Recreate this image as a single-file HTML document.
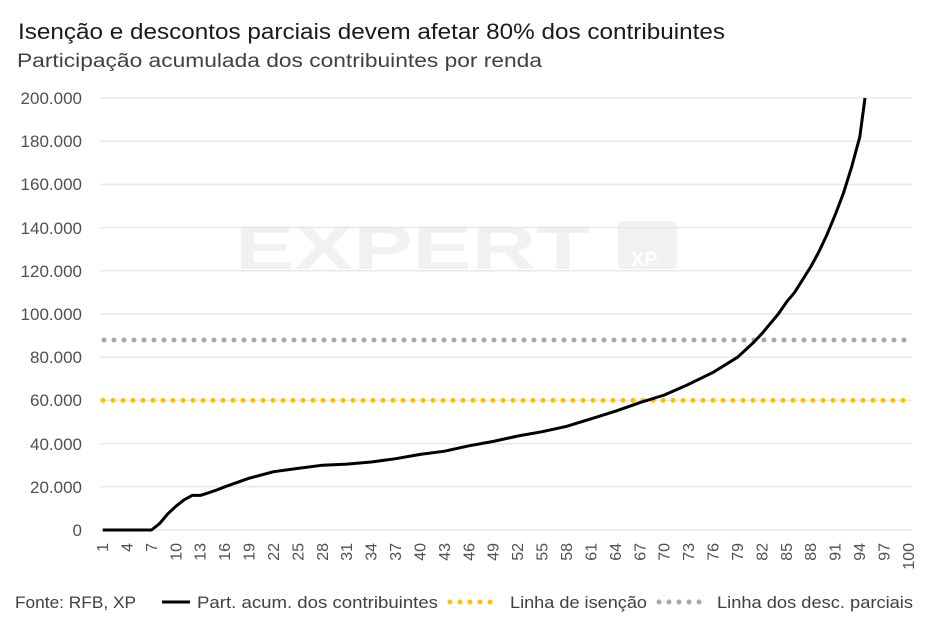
<!DOCTYPE html>
<html><head><meta charset="utf-8"><style>
html,body{margin:0;padding:0;background:#fff}
svg{display:block;font-family:"Liberation Sans",sans-serif}
</style></head><body>
<svg width="934" height="634" viewBox="0 0 934 634" xmlns="http://www.w3.org/2000/svg">
<rect width="934" height="634" fill="#fff"/>
<text x="18" y="39" font-size="22" fill="#1a1a1a" textLength="707" lengthAdjust="spacingAndGlyphs">Isenção e descontos parciais devem afetar 80% dos contribuintes</text>
<text x="17" y="67" font-size="19" fill="#404040" textLength="525" lengthAdjust="spacingAndGlyphs">Participação acumulada dos contribuintes por renda</text>
<text x="235" y="269" font-size="62" font-weight="bold" fill="#f1f1f1" textLength="355" lengthAdjust="spacingAndGlyphs">EXPERT</text>
<rect x="618" y="221" width="59" height="48" rx="5" fill="#f1f1f1"/>
<text x="631" y="266" font-size="20" font-weight="bold" fill="#fff">XP</text>
<g stroke="#e8e8e8" stroke-width="1.5">
<line x1="100" x2="912" y1="98" y2="98"/><line x1="100" x2="912" y1="141.2" y2="141.2"/>
<line x1="100" x2="912" y1="184.4" y2="184.4"/><line x1="100" x2="912" y1="227.6" y2="227.6"/>
<line x1="100" x2="912" y1="270.8" y2="270.8"/><line x1="100" x2="912" y1="314" y2="314"/>
<line x1="100" x2="912" y1="357.2" y2="357.2"/><line x1="100" x2="912" y1="400.4" y2="400.4"/>
<line x1="100" x2="912" y1="443.6" y2="443.6"/><line x1="100" x2="912" y1="486.8" y2="486.8"/>
<line x1="100" x2="912" y1="530" y2="530"/>
</g>
<g font-size="17" fill="#505050" text-anchor="end">
<text x="82" y="104">200.000</text><text x="82" y="147">180.000</text><text x="82" y="190">160.000</text>
<text x="82" y="234">140.000</text><text x="82" y="277">120.000</text><text x="82" y="320">100.000</text>
<text x="82" y="363">80.000</text><text x="82" y="406">60.000</text><text x="82" y="450">40.000</text>
<text x="82" y="493">20.000</text><text x="82" y="536">0</text>
</g>
<g font-size="16" fill="#505050" text-anchor="end">
<text transform="translate(108,543) rotate(-90)">1</text>
<text transform="translate(132.4,543) rotate(-90)">4</text>
<text transform="translate(156.8,543) rotate(-90)">7</text>
<text transform="translate(181.3,543) rotate(-90)">10</text>
<text transform="translate(205.7,543) rotate(-90)">13</text>
<text transform="translate(230.1,543) rotate(-90)">16</text>
<text transform="translate(254.5,543) rotate(-90)">19</text>
<text transform="translate(278.9,543) rotate(-90)">22</text>
<text transform="translate(303.4,543) rotate(-90)">25</text>
<text transform="translate(327.8,543) rotate(-90)">28</text>
<text transform="translate(352.2,543) rotate(-90)">31</text>
<text transform="translate(376.6,543) rotate(-90)">34</text>
<text transform="translate(401,543) rotate(-90)">37</text>
<text transform="translate(425.5,543) rotate(-90)">40</text>
<text transform="translate(449.9,543) rotate(-90)">43</text>
<text transform="translate(474.3,543) rotate(-90)">46</text>
<text transform="translate(498.7,543) rotate(-90)">49</text>
<text transform="translate(523.1,543) rotate(-90)">52</text>
<text transform="translate(547.6,543) rotate(-90)">55</text>
<text transform="translate(572,543) rotate(-90)">58</text>
<text transform="translate(596.4,543) rotate(-90)">61</text>
<text transform="translate(620.8,543) rotate(-90)">64</text>
<text transform="translate(645.3,543) rotate(-90)">67</text>
<text transform="translate(669.7,543) rotate(-90)">70</text>
<text transform="translate(694.1,543) rotate(-90)">73</text>
<text transform="translate(718.5,543) rotate(-90)">76</text>
<text transform="translate(742.9,543) rotate(-90)">79</text>
<text transform="translate(767.4,543) rotate(-90)">82</text>
<text transform="translate(791.8,543) rotate(-90)">85</text>
<text transform="translate(816.2,543) rotate(-90)">88</text>
<text transform="translate(840.6,543) rotate(-90)">91</text>
<text transform="translate(865,543) rotate(-90)">94</text>
<text transform="translate(889.5,543) rotate(-90)">97</text>
<text transform="translate(913.9,543) rotate(-90)">100</text>
</g>
<line x1="104" x2="908" y1="340" y2="340" stroke="#a6a6a6" stroke-width="5" stroke-linecap="round" stroke-dasharray="0 10"/>
<line x1="103" x2="908" y1="400.4" y2="400.4" stroke="#ffc000" stroke-width="5" stroke-linecap="round" stroke-dasharray="0 10"/>
<polyline fill="none" stroke="#000" stroke-width="3" stroke-linejoin="round" points="102.7,530 151.5,530 159.7,523.5 167.8,513.8 176,506.2 184.1,499.8 192.2,495.4 200.4,495.4 208.5,492.8 216.7,490 224.8,486.8 249.2,478.2 273.6,471.7 298,468.4 322.5,465.2 346.9,464.1 371.3,462 395.7,458.7 420.2,454.4 444.6,451.2 469,445.8 493.4,441.4 517.8,436 542.3,431.7 566.7,426.3 591.1,418.8 615.5,411.2 640,402.6 664.4,395 688.8,384.2 713.2,372.3 737.6,357.2 745.8,349.6 753.9,342.1 762.1,333.4 770.2,323.7 778.3,314 786.5,302.1 794.6,292.4 802.8,279.4 810.9,266.5 819.1,251.4 827.2,234.1 835.3,214.6 843.5,193 851.6,167.1 859.8,136.9 865,98"/>
<g font-size="17" fill="#404040">
<text x="15" y="608" textLength="121" lengthAdjust="spacingAndGlyphs">Fonte: RFB, XP</text>
<line x1="162" x2="190" y1="602" y2="602" stroke="#000" stroke-width="3"/>
<text x="197" y="608" textLength="241" lengthAdjust="spacingAndGlyphs">Part. acum. dos contribuintes</text>
<line x1="450" x2="500" y1="602" y2="602" stroke="#ffc000" stroke-width="5" stroke-linecap="round" stroke-dasharray="0 10"/>
<text x="510" y="608" textLength="137" lengthAdjust="spacingAndGlyphs">Linha de isenção</text>
<line x1="659" x2="709" y1="602" y2="602" stroke="#a6a6a6" stroke-width="5" stroke-linecap="round" stroke-dasharray="0 10"/>
<text x="717" y="608" textLength="196" lengthAdjust="spacingAndGlyphs">Linha dos desc. parciais</text>
</g>
</svg>
</body></html>
